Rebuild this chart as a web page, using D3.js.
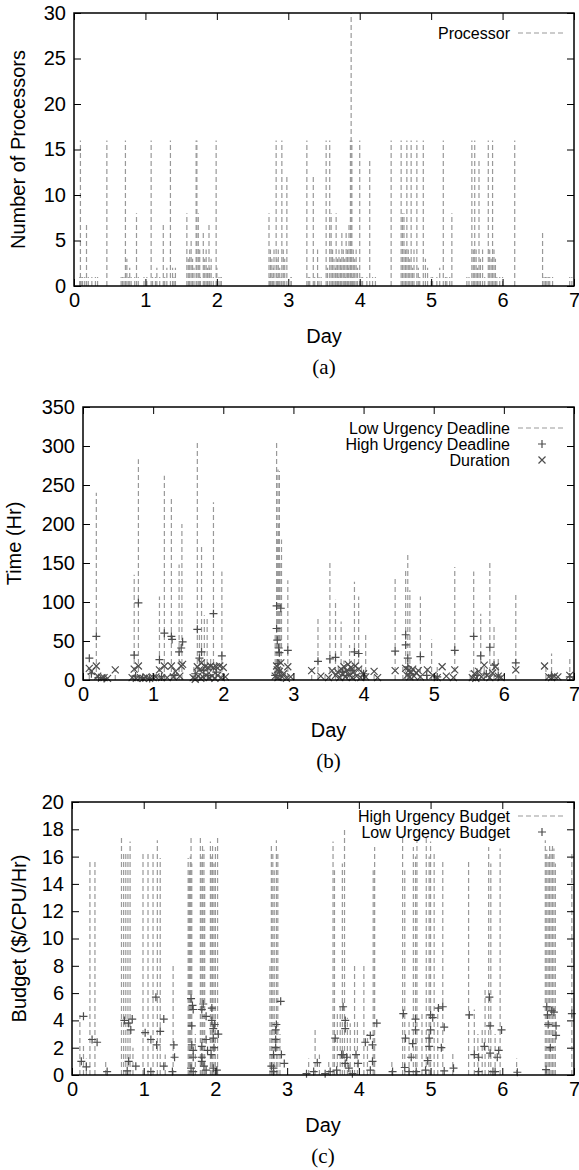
<!DOCTYPE html>
<html>
<head>
<meta charset="utf-8">
<title>Workload</title>
<script src="https://cdn.jsdelivr.net/npm/d3@7/dist/d3.min.js"></script>
<style>
body{ margin:0; background:#fff; }
svg text{ font-family: "Liberation Sans", Arial, sans-serif; fill:#000; }
.cap{ font-family: "Liberation Serif", "Times New Roman", serif; }
</style>
</head>
<body>
<svg id="fig" width="579" height="1170"></svg>
<script>

// ---------- data: [day, value] ----------
var processors = [
  [0.08,1],[0.09,16],[0.1,1],[0.12,1],[0.15,1],[0.175,7],[0.2,1],[0.25,1],[0.3,1],[0.33,1],
  [0.46,16],
  [0.66,1],[0.68,1],[0.7,1],[0.72,16],[0.74,3],[0.76,1],[0.78,2],[0.8,1],[0.85,1],[0.875,8],[0.9,1],
  [0.98,1],[1.02,1],[1.08,16],[1.1,1],[1.14,1],[1.16,2],[1.2,1],[1.25,7],[1.27,1],[1.3,2],[1.35,16],[1.38,2],[1.4,1],[1.42,2],
  [1.58,8],[1.6,3],[1.61,1],[1.62,4],[1.64,5],[1.66,3],[1.68,2],[1.71,16],[1.72,16],[1.74,8],[1.76,4],[1.77,1],[1.81,6],
  [1.83,3],[1.85,4],[1.87,2],[1.89,7],[1.9,2],[1.92,3],[1.95,1],[1.99,16],[2.0,2],[2.03,1],[2.06,1],[2.06,1],
  [2.73,8],[2.74,1],[2.75,4],[2.77,3],[2.78,1],[2.79,2],[2.8,4],[2.83,16],[2.84,3],[2.85,1],[2.86,4],[2.88,2],
  [2.9,1],[2.91,16],[2.93,4],[2.95,3],[2.98,12],[3.04,1],[3.04,1],
  [3.26,16],[3.28,1],[3.3,1],[3.35,12],[3.37,1],[3.41,4],[3.43,1],[3.46,1],[3.53,16],[3.55,2],[3.58,16],[3.6,8],
  [3.62,4],[3.62,1],[3.64,3],[3.66,2],[3.67,8],[3.69,3],[3.7,1],[3.71,4],[3.73,3],[3.74,2],[3.75,6],[3.77,4],
  [3.79,3],[3.8,1],[3.81,6],[3.83,4],[3.84,2],[3.85,7],[3.87,16],[3.88,30],[3.89,16],[3.9,1],[3.91,4],[3.93,3],
  [3.95,4],[3.97,2],[4.0,16],[4.02,1],[4.04,1],[4.1,1],[4.14,14],[4.18,1],[4.22,1],
  [4.44,16],[4.58,16],[4.6,8],[4.62,8],[4.64,4],[4.66,16],[4.68,4],[4.7,3],[4.72,16],[4.74,2],[4.76,4],[4.8,16],
  [4.82,2],[4.84,1],[4.89,16],[4.92,3],[4.95,2],[5.0,1],[5.02,1],[5.08,1],[5.12,2],[5.17,16],[5.2,1],[5.22,1],[5.26,1],[5.29,8],
  [5.5,1],[5.53,1],[5.57,16],[5.59,4],[5.61,16],[5.63,4],[5.65,2],[5.67,14],[5.69,3],[5.72,4],[5.75,1],[5.8,16],
  [5.82,4],[5.84,3],[5.86,16],[5.88,4],[5.9,3],[5.92,1],[5.96,1],[6.0,1],
  [6.17,16],
  [6.56,6],[6.58,1],[6.6,1],[6.62,1],[6.64,1],[6.66,1],[6.7,1],[6.94,1],[6.97,1]
];

var lowDeadline = [
  [0.09,12],[0.19,240],[0.25,6],[0.3,4],[0.46,14],
  [0.7,10],[0.73,135],[0.79,283],[0.85,8],[0.95,6],
  [1.05,8],[1.09,107],[1.16,262],[1.26,232],[1.32,14],[1.37,148],[1.41,200],
  [1.58,20],[1.63,305],[1.66,60],[1.69,173],[1.73,83],[1.77,80],[1.82,30],[1.86,228],[1.9,22],[1.98,139],
  [2.74,60],[2.76,305],[2.77,180],[2.78,270],[2.79,200],[2.8,268],[2.81,150],[2.83,180],[2.92,128],
  [3.26,15],[3.35,79],[3.45,10],[3.52,150],[3.6,103],[3.64,20],[3.68,75],[3.72,25],[3.8,45],[3.84,18],
  [3.87,126],[3.93,107],[3.97,20],[4.03,60],[4.15,12],
  [4.45,130],[4.56,20],[4.6,140],[4.63,162],[4.66,115],[4.7,15],[4.81,107],[4.91,15],[4.97,52],[5.05,18],
  [5.3,145],[5.52,12],[5.57,139],[5.62,15],[5.67,85],[5.72,20],[5.8,152],[5.86,68],[5.92,30],
  [6.17,112],[6.6,18],[6.68,34],[6.72,10],[6.94,30]
];

var highDeadline = [
  [0.09,28],[0.12,8],[0.19,56],[0.22,3],[0.3,2],
  [0.73,32],[0.79,99],[0.75,5],[0.85,3],[0.95,2],
  [1.09,26],[1.16,60],[1.26,56],[1.27,52],[1.37,36],[1.4,41],[1.42,49],[1.12,4],[1.3,6],
  [1.63,65],[1.66,28],[1.69,36],[1.86,85],[1.98,31],[1.6,8],[1.72,12],[1.78,6],[1.9,10],
  [2.76,95],[2.82,92],[2.76,66],[2.77,51],[2.79,41],[2.8,35],[2.78,21],[2.92,38],[2.8,10],[2.74,6],
  [3.35,24],[3.52,27],[3.6,29],[3.87,36],[3.93,34],[3.7,10],[3.76,6],[3.82,12],[4.0,8],
  [4.45,37],[4.6,58],[4.6,45],[4.63,28],[4.63,17],[4.81,30],[4.66,8],[4.9,6],[5.05,4],
  [5.3,38],[5.57,56],[5.67,31],[5.8,42],[5.86,19],[5.62,6],[5.75,8],[5.92,5],
  [6.17,22],[6.68,6],[6.94,4]
];

var duration = [
  [0.09,15],[0.12,11],[0.19,18],[0.21,5],[0.27,3],[0.3,3],[0.35,2],[0.46,13],
  [0.7,3],[0.73,14],[0.76,2],[0.79,18],[0.82,3],[0.86,2],[0.9,4],[0.95,2],[1.0,3],[1.04,4],
  [1.09,13],[1.12,3],[1.16,18],[1.2,3],[1.26,18],[1.29,4],[1.32,11],[1.4,18],[1.42,20],[1.38,5],
  [1.57,3],[1.6,1],[1.63,17],[1.64,5],[1.66,13],[1.68,2],[1.69,22],[1.71,4],[1.74,17],[1.76,6],[1.78,16],
  [1.8,3],[1.82,18],[1.84,5],[1.86,16],[1.88,2],[1.9,17],[1.92,6],[1.95,18],[1.97,3],[2.0,16],[2.03,4],
  [2.74,5],[2.76,18],[2.77,13],[2.78,3],[2.8,11],[2.82,22],[2.84,4],[2.86,8],[2.9,2],[2.92,17],[2.96,4],
  [3.26,12],[3.39,5],[3.5,3],[3.55,12],[3.6,6],[3.63,10],[3.66,3],[3.68,14],[3.7,8],[3.72,17],[3.74,4],
  [3.76,12],[3.78,20],[3.8,6],[3.82,16],[3.84,3],[3.86,10],[3.88,18],[3.9,5],[3.93,14],[3.96,3],[4.0,8],[4.03,4],
  [4.15,11],[4.2,3],[4.45,12],
  [4.6,15],[4.62,6],[4.64,12],[4.66,4],[4.68,10],[4.7,14],[4.72,5],[4.75,9],[4.78,12],[4.81,4],[4.91,13],[4.99,6],
  [5.05,3],[5.12,17],[5.18,5],[5.3,13],[5.28,3],
  [5.55,3],[5.58,8],[5.6,2],[5.64,11],[5.68,4],[5.72,19],[5.76,6],[5.8,3],[5.84,9],[5.88,17],[5.92,5],[5.96,3],
  [6.17,13],[6.58,18],[6.64,4],[6.68,3],[6.72,5],[6.77,4],[6.94,6]
];

var highBudget = [
  [0.11,4.4],[0.16,2.3],[0.2,1.2],[0.25,15.6],[0.32,15.8],[0.47,1.0],
  [0.69,17.4],[0.72,16.3],[0.75,16.3],[0.78,16.3],[0.81,17.1],[0.85,2.0],
  [0.99,16.2],[1.06,16.2],[1.13,16.2],[1.19,17.2],[1.23,15.9],[1.3,1.5],[1.41,8.0],
  [1.62,15.9],[1.63,14.5],[1.64,15.0],[1.65,16.0],[1.66,17.4],[1.67,15.5],[1.72,3.0],[1.79,17.4],[1.8,16.0],
  [1.82,16.8],[1.84,16.5],[1.85,14.0],[1.93,17.1],[1.94,16.0],[1.96,16.8],[1.98,15.5],[2.0,16.7],[2.03,17.4],
  [2.76,8.0],[2.78,16.8],[2.8,16.2],[2.82,15.0],[2.85,17.2],[2.87,16.3],[2.9,3.0],
  [3.3,1.2],[3.39,3.5],[3.45,1.5],[3.58,1.0],[3.64,17.1],[3.66,15.0],[3.7,4.5],[3.74,5.0],[3.77,15.5],[3.8,18.0],
  [3.84,4.2],[3.88,3.8],[3.94,8.2],[3.98,4.0],[4.07,8.0],[4.12,3.0],[4.2,15.0],[4.22,16.7],
  [4.46,1.0],[4.61,17.4],[4.64,15.0],[4.7,4.0],[4.76,16.7],[4.79,16.0],[4.81,17.3],[4.88,4.5],[4.94,17.4],
  [4.98,16.0],[5.0,17.1],[5.05,16.3],[5.1,5.0],[5.17,15.8],[5.31,1.6],
  [5.53,15.6],[5.61,4.8],[5.66,3.0],[5.72,3.5],[5.76,6.3],[5.81,16.7],[5.84,15.5],[5.9,3.0],[5.97,16.6],[6.2,1.2],
  [6.6,17.2],[6.62,16.5],[6.64,16.0],[6.66,17.0],[6.68,16.5],[6.7,16.8],[6.72,16.6],[6.74,15.5],[6.97,16.3]
];

var lowBudget = [
  [0.13,1.0],[0.16,4.3],[0.2,0.6],[0.28,2.6],[0.35,2.4],[0.49,0.25],
  [0.73,4.0],[0.79,3.8],[0.82,3.3],[0.84,4.1],[0.79,1.0],[0.89,0.65],[0.77,0.3],
  [1.02,3.1],[1.1,2.6],[1.17,5.7],[1.18,2.2],[1.23,3.2],[1.28,4.1],[1.28,0.65],[1.1,0.25],[1.4,0.25],[1.42,2.2],[1.43,1.3],
  [1.66,5.6],[1.68,5.1],[1.69,4.8],[1.67,3.6],[1.67,2.2],[1.69,1.8],[1.69,1.3],[1.66,0.5],[1.69,0.25],
  [1.83,5.2],[1.81,4.8],[1.87,4.3],[1.81,2.1],[1.87,2.6],[1.89,1.8],[1.81,1.3],[1.81,1.0],[1.84,0.65],[1.87,0.35],
  [1.95,4.9],[1.95,4.0],[1.97,3.4],[1.99,3.7],[1.97,2.7],[1.98,2.0],[2.04,3.0],[1.94,1.5],[1.97,0.5],[2.02,0.35],
  [2.81,1.5],[2.84,2.0],[2.84,3.3],[2.85,3.7],[2.84,2.6],[2.78,0.65],[2.81,0.5],[2.91,5.4],[2.92,1.5],[2.96,0.85],[2.81,0.25],
  [3.27,0.1],[3.37,0.25],[3.42,0.9],[3.53,0.1],[3.6,0.25],[3.67,2.7],[3.69,0.35],[3.76,1.5],[3.78,5.0],[3.81,4.0],
  [3.81,3.4],[3.78,1.5],[3.83,1.3],[3.81,0.85],[3.86,0.5],[3.91,0.1],[3.96,1.5],[3.99,0.85],
  [4.09,2.4],[4.16,2.9],[4.19,2.2],[4.19,1.0],[4.16,0.35],[4.25,3.8],[4.47,0.25],
  [4.62,4.5],[4.65,2.7],[4.64,0.55],[4.7,0.25],[4.73,1.3],[4.75,2.3],[4.79,4.1],[4.79,3.3],[4.8,0.25],
  [4.93,0.35],[4.96,1.05],[4.98,2.1],[4.98,2.7],[5.0,3.3],[5.0,4.4],[5.03,4.2],[5.11,4.9],[5.17,5.0],[5.15,2.0],
  [5.19,3.5],[5.19,0.3],[5.32,0.5],
  [5.54,4.4],[5.61,1.5],[5.67,1.3],[5.67,0.25],[5.75,2.1],[5.82,5.7],[5.83,3.6],[5.83,1.6],[5.87,0.25],[5.9,0.25],
  [5.93,1.3],[5.95,1.8],[5.99,3.3],[6.21,0.2],
  [6.61,0.4],[6.62,5.0],[6.63,4.4],[6.64,3.7],[6.67,2.0],[6.69,4.7],[6.72,4.6],[6.75,3.6],[6.75,2.9],[6.97,4.5]
];

var xTicks = [0, 1, 2, 3, 4, 5, 6, 7];
var yTicksA = [0, 5, 10, 15, 20, 25, 30];
var yTicksB = [0, 50, 100, 150, 200, 250, 300, 350];
var yTicksC = [0, 2, 4, 6, 8, 10, 12, 14, 16, 18, 20];

var svg = d3.select("#fig");
var right = 574;
var lineGray = "#999";
var markGray = "#4d4d4d";

var plusPath = "M-4,0H4M0,-4V4";
var crossPath = "M-3.5,-3.5L3.5,3.5M-3.5,3.5L3.5,-3.5";

function panel(p){
	var x = d3.scaleLinear().domain([0, 7]).range([p.left, right]);
	var y = d3.scaleLinear().domain([0, p.yTicks[p.yTicks.length - 1]]).range([p.bottom, p.top]);
	var g = svg.append("g");

	// impulses
	g.append("g").selectAll("line")
		.data(p.impulses)
		.enter().append("line")
		.attr("x1", function(d){ return x(d[0]); })
		.attr("x2", function(d){ return x(d[0]); })
		.attr("y1", y(0))
		.attr("y2", function(d){ return y(d[1]); })
		.attr("stroke", lineGray)
		.attr("stroke-width", 1.2)
		.attr("stroke-dasharray", "5,3");

	// point series
	p.points.forEach(function(s){
		g.append("g").selectAll("path")
			.data(s.data)
			.enter().append("path")
			.attr("d", s.shape)
			.attr("transform", function(d){ return "translate(" + x(d[0]) + "," + y(d[1]) + ")"; })
			.attr("fill", "none")
			.attr("stroke", markGray)
			.attr("stroke-width", 1.2);
	});

	// axes, ticks inward and mirrored
	var h = p.bottom - p.top;
	var w = right - p.left;
	g.append("g").attr("transform", "translate(0," + p.bottom + ")")
		.call(d3.axisBottom(x).tickValues(xTicks).tickSize(-7).tickPadding(7).tickFormat(d3.format("d")))
		.call(function(a){ a.select(".domain").remove(); });
	g.append("g").attr("transform", "translate(0," + p.top + ")")
		.call(d3.axisTop(x).tickValues(xTicks).tickSize(-7).tickFormat(""))
		.call(function(a){ a.select(".domain").remove(); });
	g.append("g").attr("transform", "translate(" + p.left + ",0)")
		.call(d3.axisLeft(y).tickValues(p.yTicks).tickSize(-7).tickPadding(8))
		.call(function(a){ a.select(".domain").remove(); });
	g.append("g").attr("transform", "translate(" + right + ",0)")
		.call(d3.axisRight(y).tickValues(p.yTicks).tickSize(-7).tickFormat(""))
		.call(function(a){ a.select(".domain").remove(); });
	g.selectAll(".tick line").attr("stroke", "#000");
	g.selectAll(".tick text").style("font-size", "20px").attr("fill", "#000");

	g.append("rect")
		.attr("x", p.left).attr("y", p.top)
		.attr("width", w).attr("height", h)
		.attr("fill", "none").attr("stroke", "#000").attr("stroke-width", 1.5);

	// titles
	g.append("text")
		.attr("x", (p.left + right) / 2).attr("y", p.bottom + 50)
		.attr("dy", "0.35em").attr("text-anchor", "middle")
		.style("font-size", "20px").text("Day");
	g.append("text")
		.attr("transform", "translate(" + p.titleX + "," + (p.top + p.bottom) / 2 + ") rotate(-90)")
		.attr("dy", "0.35em").attr("text-anchor", "middle")
		.style("font-size", "20px").text(p.yTitle);
	g.append("text").attr("class", "cap")
		.attr("x", (p.left + right) / 2).attr("y", p.bottom + 81)
		.attr("dy", "0.35em").attr("text-anchor", "middle")
		.style("font-size", "21px").text(p.caption);

	// legend
	p.legend.forEach(function(item, i){
		var ly = p.legendY + i * 16;
		g.append("text")
			.attr("x", 510).attr("y", ly).attr("dy", "0.35em")
			.attr("text-anchor", "end").style("font-size", "16px")
			.text(item.label);
		if(item.shape){
			g.append("path").attr("d", item.shape)
				.attr("transform", "translate(542," + ly + ")")
				.attr("fill", "none").attr("stroke", markGray).attr("stroke-width", 1.2);
		}else{
			g.append("line")
				.attr("x1", 518).attr("x2", 566).attr("y1", ly).attr("y2", ly)
				.attr("stroke", lineGray).attr("stroke-width", 1.2)
				.attr("stroke-dasharray", "5,3");
		}
	});
}

panel({
	left: 74, top: 13, bottom: 286, yTicks: yTicksA, titleX: 18,
	yTitle: "Number of Processors", caption: "(a)",
	impulses: processors, points: [],
	legendY: 33, legend: [{label: "Processor"}]
});

panel({
	left: 83, top: 407, bottom: 680, yTicks: yTicksB, titleX: 14,
	yTitle: "Time (Hr)", caption: "(b)",
	impulses: lowDeadline,
	points: [{data: highDeadline, shape: plusPath}, {data: duration, shape: crossPath}],
	legendY: 428,
	legend: [{label: "Low Urgency Deadline"}, {label: "High Urgency Deadline", shape: plusPath}, {label: "Duration", shape: crossPath}]
});

panel({
	left: 72, top: 802, bottom: 1075, yTicks: yTicksC, titleX: 19,
	yTitle: "Budget ($/CPU/Hr)", caption: "(c)",
	impulses: highBudget,
	points: [{data: lowBudget, shape: plusPath}],
	legendY: 816,
	legend: [{label: "High Urgency Budget"}, {label: "Low Urgency Budget", shape: plusPath}]
});

</script>
</body>
</html>
